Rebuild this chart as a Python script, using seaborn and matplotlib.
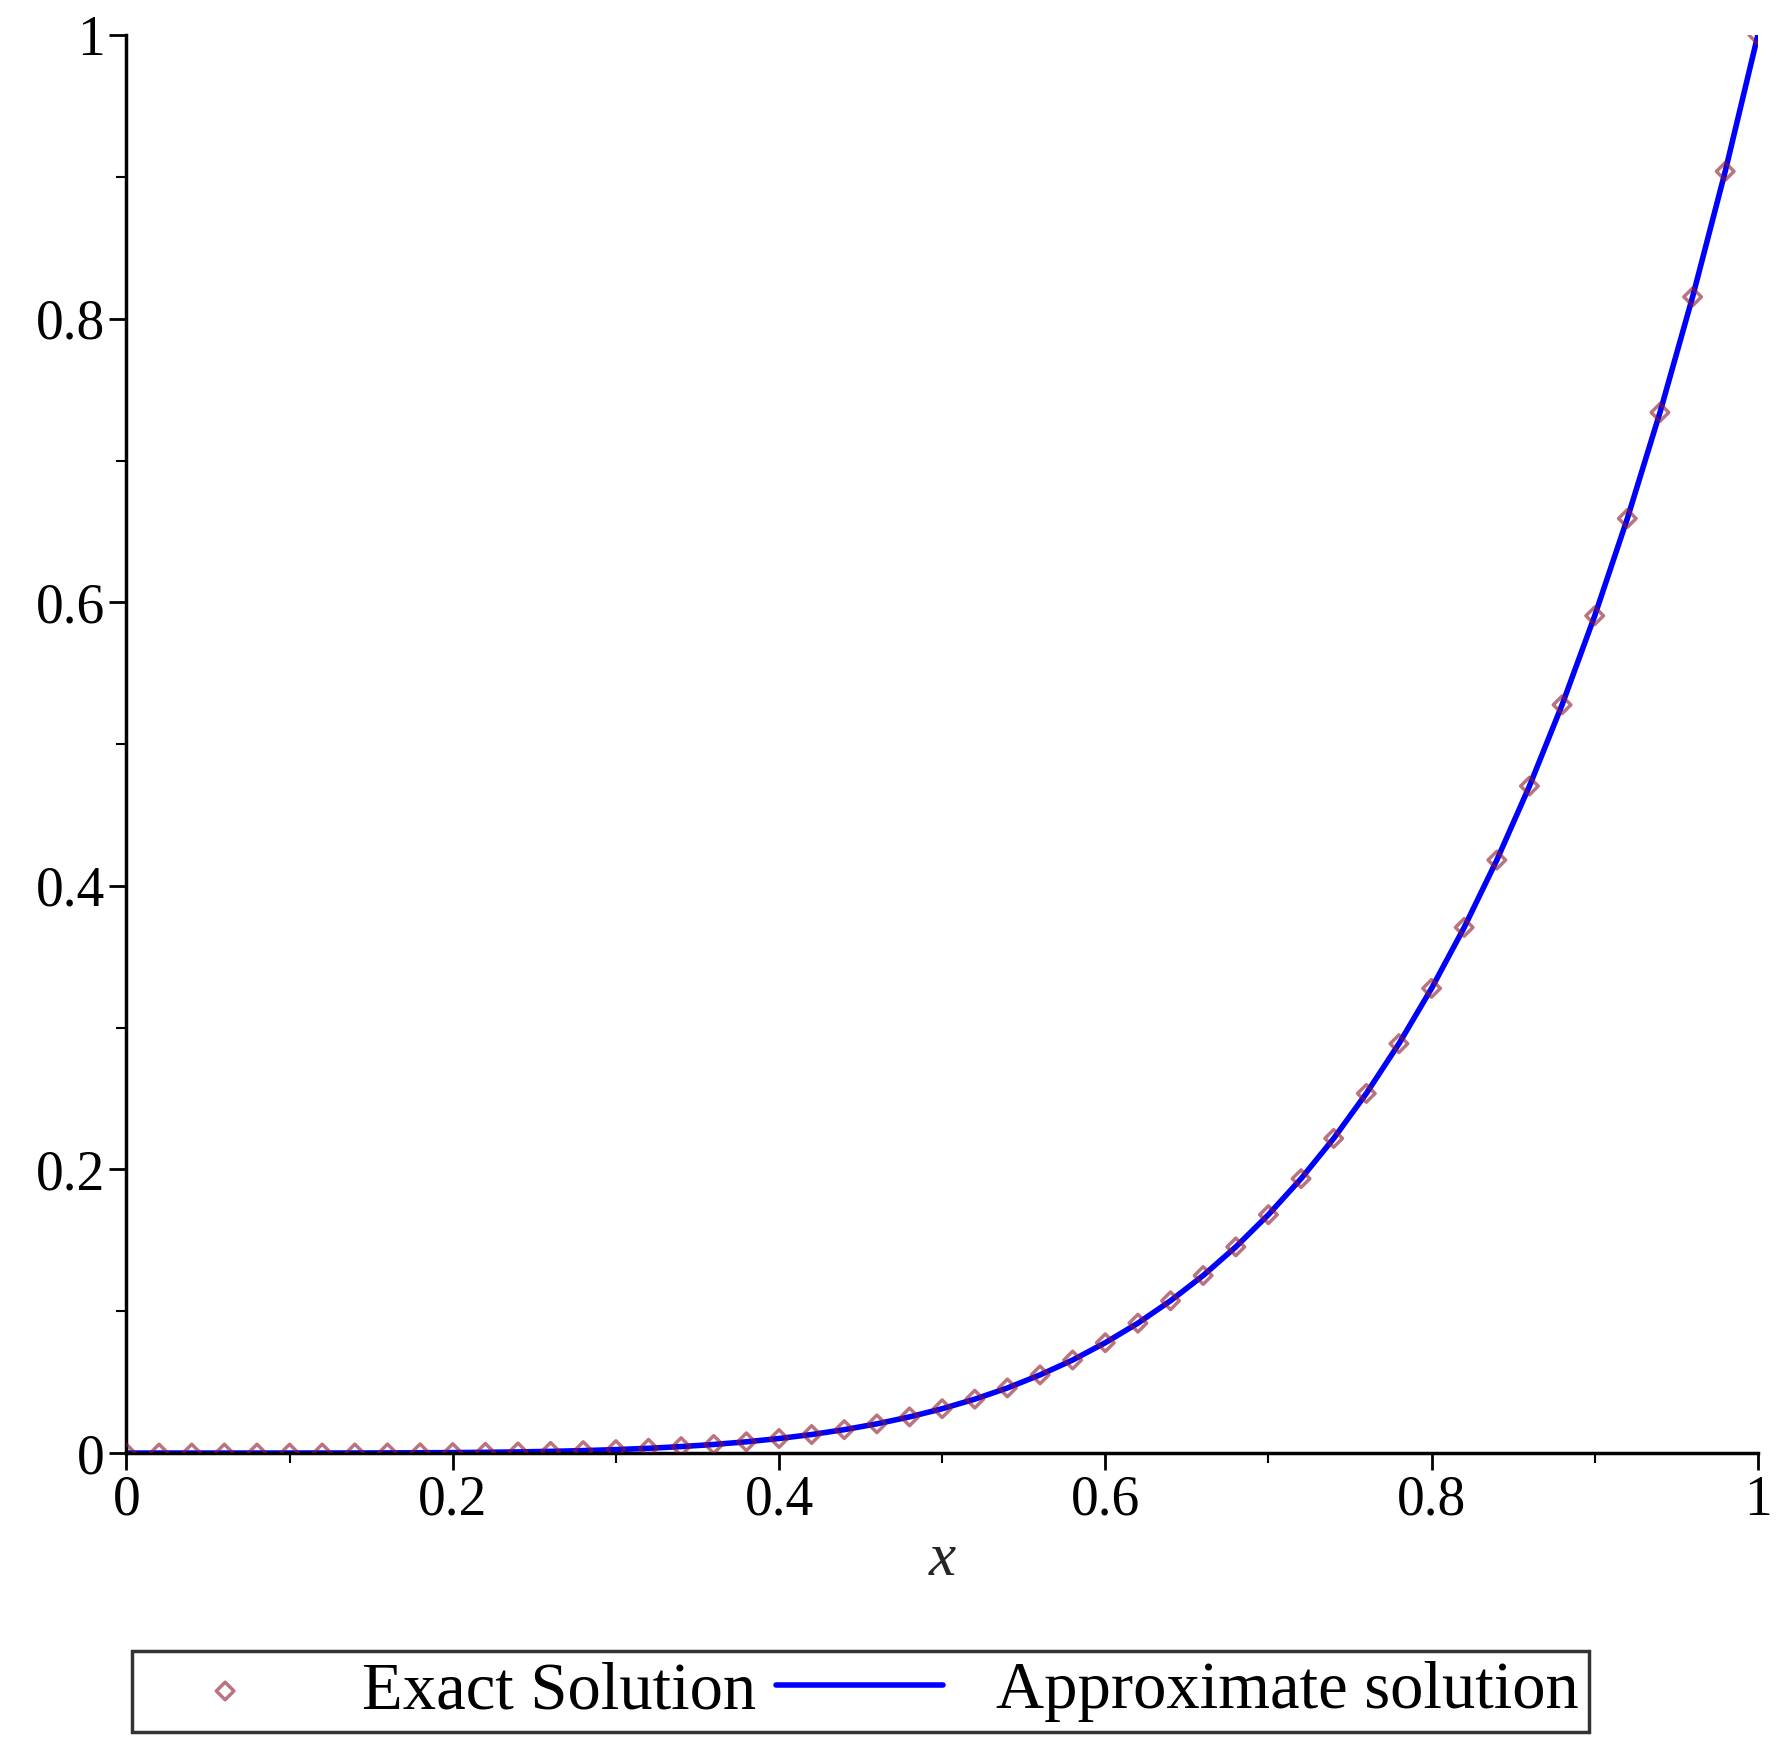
import matplotlib
matplotlib.use("Agg")
import matplotlib.pyplot as plt
import seaborn as sns
import numpy as np
import pandas as pd
from matplotlib.ticker import MultipleLocator

sns.set_style("white")
plt.rcParams['font.family'] = ['Liberation Serif', 'DejaVu Serif']

x_vals = [0.00,0.02,0.04,0.06,0.08,0.10,0.12,0.14,0.16,0.18,0.20,0.22,0.24,0.26,0.28,0.30,0.32,0.34,0.36,0.38,0.40,
          0.42,0.44,0.46,0.48,0.50,0.52,0.54,0.56,0.58,0.60,0.62,0.64,0.66,0.68,0.70,0.72,0.74,0.76,0.78,0.80,
          0.82,0.84,0.86,0.88,0.90,0.92,0.94,0.96,0.98,1.00]
y_vals = [0.0,0.0,0.0,0.0,0.0,0.00001,0.000025,0.000054,0.000105,0.000189,0.00032,0.000515,0.000796,0.001188,0.001721,
          0.00243,0.003355,0.004544,0.006047,0.007924,0.01024,0.01307,0.01649,0.0206,0.02548,0.03125,0.0380,0.0459,
          0.0551,0.0656,0.0778,0.0916,0.1074,0.1252,0.1454,0.1681,0.1935,0.2219,0.2536,0.2887,0.3277,0.3707,0.4182,
          0.4704,0.5277,0.5905,0.6591,0.7339,0.8154,0.9039,1.0]
tick_vals = [0, 0.2, 0.4, 0.6, 0.8, 1.0]
tick_labels = ["0", "0.2", "0.4", "0.6", "0.8", "1"]
df = pd.DataFrame({"x": x_vals, "y": y_vals})

fig = plt.figure(figsize=(17.81, 17.57), dpi=100)
ax = fig.add_axes([0.071, 0.173, 0.916, 0.807])
sns.lineplot(data=df, x="x", y="y", ax=ax, color="blue", lw=4, zorder=2, legend=False, errorbar=None)
sns.scatterplot(data=df, x="x", y="y", ax=ax, marker="D", s=80, facecolor="none",
                edgecolor="#8b1a2a", linewidth=2.5, alpha=0.6, zorder=3, legend=False)

ax.set_xlim(0, 1.0)
ax.set_ylim(0, 1.0)
for s in ["top", "right"]:
    ax.spines[s].set_visible(False)
for s in ["left", "bottom"]:
    ax.spines[s].set_linewidth(2.5)
    ax.spines[s].set_color("black")
ax.set_xticks(tick_vals)
ax.set_yticks(tick_vals)
ax.set_xticklabels(tick_labels)
ax.set_yticklabels(tick_labels)
ax.xaxis.set_minor_locator(MultipleLocator(0.1))
ax.yaxis.set_minor_locator(MultipleLocator(0.1))
ax.tick_params(which="both", bottom=True, left=True, direction="out", colors="black")
ax.tick_params(which="major", length=12, width=2, labelsize=40)
ax.tick_params(which="minor", length=7, width=1.5)
ax.set_xlabel("x", fontsize=44, style="italic")
ax.set_ylabel("")

h = [ax.collections[-1], ax.lines[0]]
l = ["Exact Solution", "Approximate solution"]
leg = fig.legend(h, l, loc="center", bbox_to_anchor=(0.483, 0.037), ncol=2,
                 fontsize=48, frameon=True, fancybox=False, edgecolor="black",
                 handlelength=2.5, columnspacing=0.3, borderpad=0.15)
leg.get_frame().set_linewidth(2.5)
for t in leg.get_texts():
    t.set_color("black")
fig.savefig("out.png", dpi=100)
